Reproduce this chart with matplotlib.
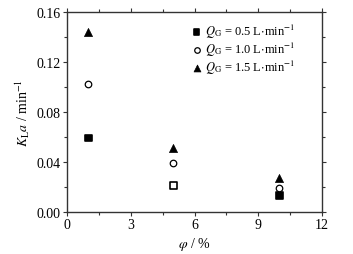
import matplotlib
matplotlib.use("Agg")
import matplotlib.pyplot as plt
from matplotlib.ticker import MultipleLocator

plt.rcParams['font.family'] = ['Liberation Serif', 'DejaVu Serif']
plt.rcParams['mathtext.fontset'] = 'stix'

phi = [1, 5, 10]
k_05 = [0.059, 0.021, 0.013]
k_10 = [0.102, 0.039, 0.019]
k_15 = [0.144, 0.051, 0.027]
face_05 = ['black', 'white', 'black']
labels = [r'$Q_\mathrm{G}$ = 0.5 L$\cdot$min$^{-1}$',
          r'$Q_\mathrm{G}$ = 1.0 L$\cdot$min$^{-1}$',
          r'$Q_\mathrm{G}$ = 1.5 L$\cdot$min$^{-1}$']

fig = plt.figure(figsize=(3.53, 2.55), dpi=100)
ax = fig.add_axes([0.19, 0.165, 0.722, 0.784])

ax.scatter(phi, k_05, marker='s', s=22, facecolors=face_05, edgecolors='black', linewidths=1.2, label=labels[0], zorder=3)
ax.scatter(phi, k_10, marker='o', s=22, facecolors='white', edgecolors='black', linewidths=0.9, label=labels[1], zorder=3)
ax.scatter(phi, k_15, marker='^', s=34, facecolors='black', edgecolors='black', linewidths=0.5, label=labels[2], zorder=3)

ax.set_xlim(0, 12)
ax.set_ylim(0, 0.16)
ax.xaxis.set_major_locator(MultipleLocator(3))
ax.xaxis.set_minor_locator(MultipleLocator(1.5))
ax.yaxis.set_major_locator(MultipleLocator(0.04))
ax.yaxis.set_minor_locator(MultipleLocator(0.02))
ax.yaxis.set_major_formatter(matplotlib.ticker.FormatStrFormatter('%.2f'))
ax.tick_params(which='both', direction='out', top=True, right=True, labelsize=10, width=0.8, colors='#333333', labelcolor='black')
ax.tick_params(which='major', length=3, pad=1.5)
ax.tick_params(which='minor', length=2)
for s in ax.spines.values():
    s.set_linewidth(1.0)
    s.set_color('#333333')

ax.set_xlabel(r'$\varphi$ / %', fontsize=10, labelpad=3)
ax.set_ylabel(r'$K_\mathrm{L}a$ / min$^{-1}$', fontsize=10, labelpad=3)

leg = ax.legend(loc='upper left', bbox_to_anchor=(0.44, 1.0), frameon=False, fontsize=9,
                handletextpad=0.05, labelspacing=0.0, borderpad=0.3, handlelength=1.2,
                markerscale=0.85)

fig.savefig('out.png', dpi=100)
